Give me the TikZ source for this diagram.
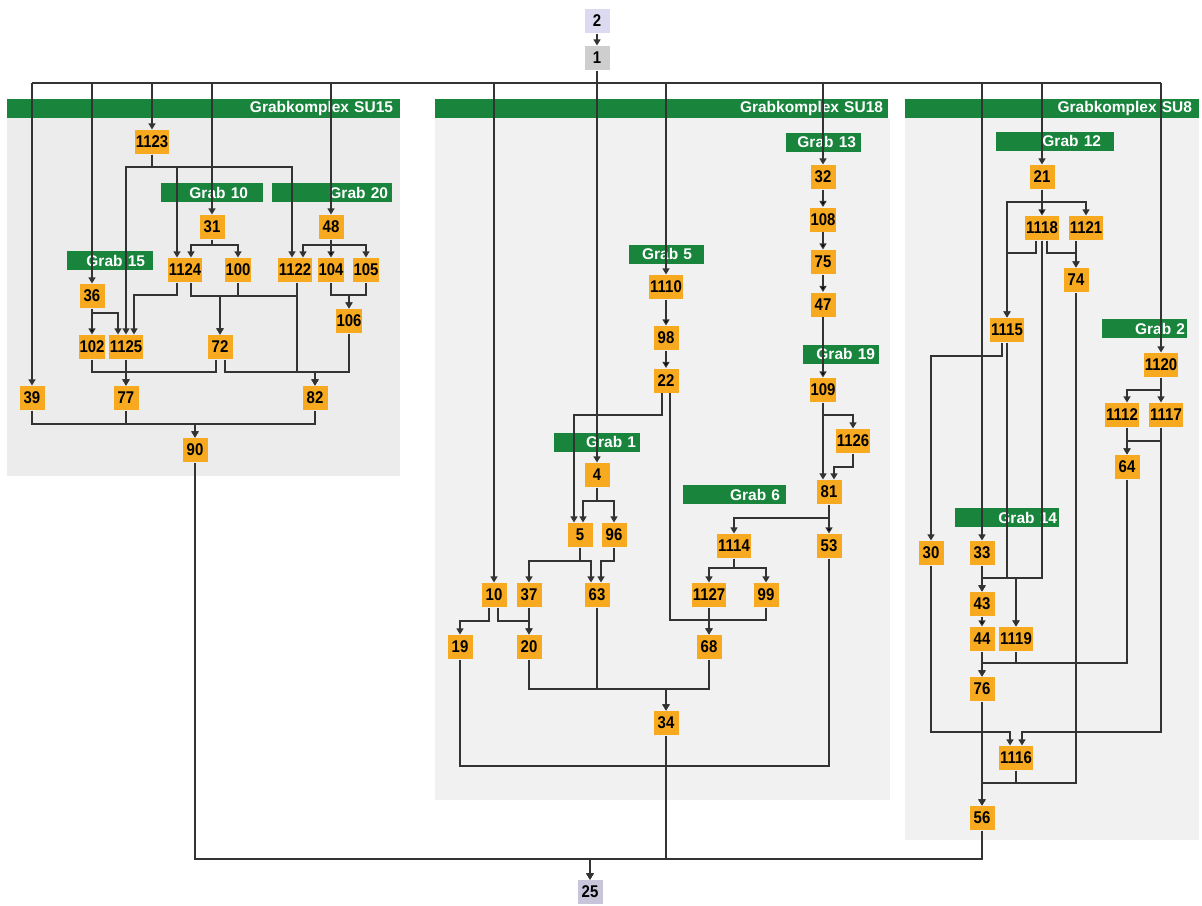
\documentclass[tikz,border=0pt]{standalone}
\usepackage{fontspec}
\setmainfont{Liberation Sans}
\newfontfamily\numfam[FakeStretch=0.88]{Liberation Sans}
\usetikzlibrary{arrows.meta}

\definecolor{suorange}{RGB}{247,170,32}
\definecolor{grabgreen}{RGB}{24,132,60}
\definecolor{bggray}{RGB}{236,236,236}
\definecolor{toplav}{RGB}{220,218,240}
\definecolor{topgray}{RGB}{206,206,206}
\definecolor{botlav}{RGB}{200,196,218}
\newcommand{\numfont}{\numfam\fontsize{17}{17}\selectfont\bfseries}
\newcommand{\barfont}{\fontsize{15.5}{15.5}\selectfont\bfseries}

\begin{document}
\begin{tikzpicture}[x=1pt,y=-1pt,>={Triangle[length=6pt,width=7pt]},line width=1.1pt,
  node distance=42.5pt,
  su node/.style={rectangle,fill=suorange,font=\numfont,
    minimum height=24pt,minimum width=25pt,inner xsep=1pt,inner ysep=0pt},
  end node/.style={su node,fill=#1},
  grab bar/.style={rectangle,fill=grabgreen,text=white,font=\barfont,align=right,
    minimum height=19pt,inner xsep=2pt,inner ysep=0pt,text width=#1},
  wire/.style={draw=black!80}]

  \useasboundingbox (0,0) rectangle (1202,905);

  % group areas
  \fill[bggray] (7,118) rectangle (400,476);
  \fill[bggray!75] (435,118) rectangle (890,800);
  \fill[bggray!75] (905,118) rectangle (1199,840);

  % headers
  \node[grab bar=389pt] (su15) at (203.5,108.5) {Grabkomplex SU15\kern5pt};
  \node[grab bar=449pt] (su18) at (661.5,108.5) {Grabkomplex SU18\kern3pt};
  \node[grab bar=290pt] (su8) at (1052,108.5) {Grabkomplex SU8\kern5pt};
  \node[grab bar=98pt] (g10) at (212,192.5) {Grab 10\kern13pt};
  \node[grab bar=116pt] (g20) at (332,192.5) {Grab 20\kern2pt};
  \node[grab bar=82pt] (g15) at (110,260.5) {Grab 15\kern6pt};
  \node[grab bar=71pt] (g13) at (823.5,142) {Grab 13\kern3pt};
  \node[grab bar=71pt] (g5) at (666.5,254) {Grab 5\kern10pt};
  \node[grab bar=72pt] (g19) at (841,354) {Grab 19\kern2pt};
  \node[grab bar=82pt] (g1) at (597,442) {Grab 1\kern2pt};
  \node[grab bar=99pt] (g6) at (734.5,494.5) {Grab 6\kern4pt};
  \node[grab bar=114pt] (g12) at (1055,141) {Grab 12\kern11pt};
  \node[grab bar=81pt] (g2) at (1144.5,328.5) {Grab 2};
  \node[grab bar=100pt] (g14) at (1007,517.5) {Grab 14};

  % top and bottom
  \node[end node=toplav] (n2) at (597,21) {2};
  \node[end node=topgray] (n1) [below of=n2, node distance=37pt] {1};
  \node[end node=botlav] (n25) at (590,892) {25};

  % SU15
  \node[su node] (n1123) at (152,142) {1123};
  \node[su node] (n31) at (212,227) {31};
  \node[su node] (n48) at (331,227) {48};
  \node[su node] (n1124) at (185,270) {1124};
  \node[su node] (n100) [right of=n1124, node distance=53pt] {100};
  \node[su node] (n1122) at (295,270) {1122};
  \node[su node] (n104) [below of=n48, node distance=43pt] {104};
  \node[su node] (n105) [right of=n104, node distance=35pt] {105};
  \node[su node] (n36) at (92,296) {36};
  \node[su node] (n102) [below of=n36, node distance=51pt] {102};
  \node[su node] (n1125) [right of=n102, node distance=34pt] {1125};
  \node[su node] (n106) at (349,321) {106};
  \node[su node] (n72) at (220,347) {72};
  \node[su node] (n39) at (32,398) {39};
  \node[su node] (n77) [below of=n1125, node distance=51pt] {77};
  \node[su node] (n82) at (315,398) {82};
  \node[su node] (n90) at (195,450) {90};

  % SU18
  \node[su node] (n32) at (823,177) {32};
  \node[su node] (n108) [below of=n32] {108};
  \node[su node] (n75) [below of=n108] {75};
  \node[su node] (n47) [below of=n75] {47};
  \node[su node] (n109) at (823,390) {109};
  \node[su node] (n1126) at (853,441) {1126};
  \node[su node] (n81) at (829,492) {81};
  \node[su node] (n53) [below of=n81, node distance=54pt] {53};
  \node[su node] (n1114) at (734,546) {1114};
  \node[su node] (n1127) at (709,595) {1127};
  \node[su node] (n99) [right of=n1127, node distance=57pt] {99};
  \node[su node] (n68) [below of=n1127, node distance=52pt] {68};
  \node[su node] (n1110) at (666,287) {1110};
  \node[su node] (n98) [below of=n1110, node distance=51pt] {98};
  \node[su node] (n22) [below of=n98] {22};
  \node[su node] (n4) at (597,475) {4};
  \node[su node] (n5) at (580,535) {5};
  \node[su node] (n96) [right of=n5, node distance=34pt] {96};
  \node[su node] (n10) at (494,595) {10};
  \node[su node] (n37) [right of=n10, node distance=35pt] {37};
  \node[su node] (n63) at (597,595) {63};
  \node[su node] (n19) at (460,647) {19};
  \node[su node] (n20) [below of=n37, node distance=52pt] {20};
  \node[su node] (n34) at (666,723) {34};

  % SU8
  \node[su node] (n21) at (1042,177) {21};
  \node[su node] (n1118) [below of=n21, node distance=51pt] {1118};
  \node[su node] (n1121) [right of=n1118, node distance=44pt] {1121};
  \node[su node] (n74) at (1076,280) {74};
  \node[su node] (n1115) at (1007,330) {1115};
  \node[su node] (n1120) at (1161,365) {1120};
  \node[su node] (n1112) at (1122,415) {1112};
  \node[su node] (n1117) [right of=n1112, node distance=44pt] {1117};
  \node[su node] (n64) at (1127,467) {64};
  \node[su node] (n30) at (931,553) {30};
  \node[su node] (n33) at (982,553) {33};
  \node[su node] (n43) [below of=n33, node distance=51pt] {43};
  \node[su node] (n44) [below of=n43, node distance=35pt] {44};
  \node[su node] (n1119) [right of=n44, node distance=34pt] {1119};
  \node[su node] (n76) [below of=n44, node distance=50pt] {76};
  \node[su node] (n1116) at (1016,758) {1116};
  \node[su node] (n56) at (982,818) {56};

  % top bus
  \draw[wire] (n39 |- 0,83) -- (n1120 |- 0,83);
  \draw[wire,->] (n2) -- (n1);
  \draw[wire,->] (n1) -- (n4);
  \draw[wire,->] (n39 |- 0,83) -- (n39);
  \draw[wire,->] (n36 |- 0,83) -- (n36);
  \draw[wire,->] (n1123 |- 0,83) -- (n1123);
  \draw[wire,->] (n31 |- 0,83) -- (n31);
  \draw[wire,->] (n48 |- 0,83) -- (n48);
  \draw[wire,->] (n10 |- 0,83) -- (n10);
  \draw[wire,->] (n1110 |- 0,83) -- (n1110);
  \draw[wire,->] (n32 |- 0,83) -- (n32);
  \draw[wire,->] (n33 |- 0,83) -- (n33);
  \draw[wire,->] (n21 |- 0,83) -- (n21);
  \draw[wire,->] (n1120 |- 0,83) -- (n1120);

  % straight links
  \path[wire]
    (n48) edge[->] (n104)
    (n36) edge[->] (n102)
    (n1125) edge[->] (n77)
    (n32) edge[->] (n108)
    (n108) edge[->] (n75)
    (n75) edge[->] (n47)
    (n47) edge[->] (n109)
    (n1110) edge[->] (n98)
    (n98) edge[->] (n22)
    (n81) edge[->] (n53)
    (n1127) edge[->] (n68)
    (n37) edge[->] (n20)
    (n21) edge[->] (n1118)
    (n33) edge[->] (n43)
    (n43) edge[->] (n44)
    (n44) edge[->] (n76)
    (n76) edge[->] (n56);

  % SU15 links
  \draw[wire,->] (n1123.south) |- (126,167) -- (n1125.north);
  \draw[wire,->] (n1123.south) |- (177,167) -- ([xshift=-8pt]n1124.north);
  \draw[wire,->] (n1123.south) |- (292,167) -- ([xshift=-3pt]n1122.north);
  \draw[wire,->] (n31.south) |- (191,245) -- ([xshift=6pt]n1124.north);
  \draw[wire,->] (n31.south) |- (238,245) -- (n100.north);
  \draw[wire,->] (n48.south) |- (303,245) -- ([xshift=8pt]n1122.north);
  \draw[wire,->] (n48.south) |- (366,245) -- (n105.north);
  \draw[wire,->] (n36.south) |- (118,313) -- ([xshift=-8pt]n1125.north);
  \draw[wire,->] ([xshift=-8pt]n1124.south) |- (134,295) -- ([xshift=8pt]n1125.north);
  \draw[wire,->] ([xshift=6pt]n1124.south) |- (220,296) -- (n72.north);
  \draw[wire,->] (n100.south) |- (220,296) -- (n72.north);
  \draw[wire,->] ([xshift=2pt]n1122.south) |- (220,296) -- (n72.north);
  \draw[wire,->] (n104.south) |- (349,295) -- (n106.north);
  \draw[wire,->] (n105.south) |- (349,295) -- (n106.north);
  \draw[wire,->] (n102.south) |- (126,372) -- (n77.north);
  \draw[wire,->] ([xshift=-4pt]n72.south) |- (126,372) -- (n77.north);
  \draw[wire,->] ([xshift=5pt]n72.south) |- (315,372) -- (n82.north);
  \draw[wire,->] ([xshift=2pt]n1122.south) |- (315,372) -- (n82.north);
  \draw[wire,->] (n106.south) |- (315,372) -- (n82.north);
  \draw[wire,->] (n39.south) |- (195,424) -- (n90.north);
  \draw[wire,->] (n77.south) |- (195,424) -- (n90.north);
  \draw[wire,->] (n82.south) |- (195,424) -- (n90.north);
  \draw[wire,->] (n90.south) |- (590,859) -- (n25.north);

  % SU18 links
  \draw[wire,->] ([xshift=-4pt]n22.south) |- (574,415) -- ([xshift=-6pt]n5.north);
  \draw[wire,->] ([xshift=4pt]n22.south) |- (709,620) -- (n68.north);
  \draw[wire,->] (n99.south) |- (709,620) -- (n68.north);
  \draw[wire,->] (n4.south) |- (583,501) -- ([xshift=3pt]n5.north);
  \draw[wire,->] (n4.south) |- (614,501) -- (n96.north);
  \draw[wire,->] (n5.south) |- (529,561) -- (n37.north);
  \draw[wire,->] (n5.south) |- (591,561) -- ([xshift=-6pt]n63.north);
  \draw[wire,->] (n96.south) |- (601,561) -- ([xshift=4pt]n63.north);
  \draw[wire,->] ([xshift=-5pt]n10.south) |- (460,621) -- (n19.north);
  \draw[wire,->] ([xshift=4pt]n10.south) |- (529,621) -- (n20.north);
  \draw[wire,->] (n20.south) |- (666,689) -- (n34.north);
  \draw[wire,->] (n63.south) |- (666,689) -- (n34.north);
  \draw[wire,->] (n68.south) |- (666,689) -- (n34.north);
  \draw[wire,->] (n34.south) |- (590,859) -- (n25.north);
  \draw[wire,->] (n19.south) |- (666,766) |- (590,859) -- (n25.north);
  \draw[wire,->] (n53.south) |- (666,766) |- (590,859) -- (n25.north);
  \draw[wire,->] (n81.south) |- (734,518) -- (n1114.north);
  \draw[wire,->] (n1114.south) |- (709,568) -- (n1127.north);
  \draw[wire,->] (n1114.south) |- (766,568) -- (n99.north);
  \draw[wire,->] (n109.south) -- ([xshift=-6pt]n81.north);
  \draw[wire,->] (n109.south) |- (853,415) -- (n1126.north);
  \draw[wire,->] (n1126.south) |- (834,467) -- ([xshift=5pt]n81.north);

  % SU8 links
  \draw[wire,->] (n21.south) |- (1086,202) -- (n1121.north);
  \draw[wire,->] (n21.south) |- (1007,202) -- (n1115.north);
  \draw[wire,->] ([xshift=-6pt]n1118.south) |- (1007,253) -- (n1115.north);
  \draw[wire,->] ([xshift=5pt]n1118.south) |- (1076,253) -- (n74.north);
  \draw[wire,->] ([xshift=-10pt]n1121.south) -- (n74.north);
  \draw[wire,->] (n1118.south) |- (982,578) -- (n43.north);
  \draw[wire,->] (n1118.south) |- (1016,578) -- (n1119.north);
  \draw[wire,->] (n1115.south) |- (982,578) -- (n43.north);
  \draw[wire,->] (n33.south) |- (1016,578) -- (n1119.north);
  \draw[wire,->] ([xshift=-5pt]n1115.south) |- (931,356) -- (n30.north);
  \draw[wire,->] (n1119.south) |- (982,663) -- (n76.north);
  \draw[wire,->] (n64.south) |- (982,663) -- (n76.north);
  \draw[wire,->] (n1120.south) -- ([xshift=-5pt]n1117.north);
  \draw[wire,->] (n1120.south) |- (1127,390) -- ([xshift=5pt]n1112.north);
  \draw[wire,->] ([xshift=5pt]n1112.south) -- (n64.north);
  \draw[wire,->] ([xshift=-5pt]n1117.south) |- (1127,441) -- (n64.north);
  \draw[wire,->] ([xshift=-5pt]n1117.south) |- (1022,732) -- ([xshift=6pt]n1116.north);
  \draw[wire,->] (n30.south) |- (1010,732) -- ([xshift=-6pt]n1116.north);
  \draw[wire,->] (n1116.south) |- (982,783) -- (n56.north);
  \draw[wire,->] (n74.south) |- (982,783) -- (n56.north);
  \draw[wire,->] (n56.south) |- (590,859) -- (n25.north);
\end{tikzpicture}
\end{document}
